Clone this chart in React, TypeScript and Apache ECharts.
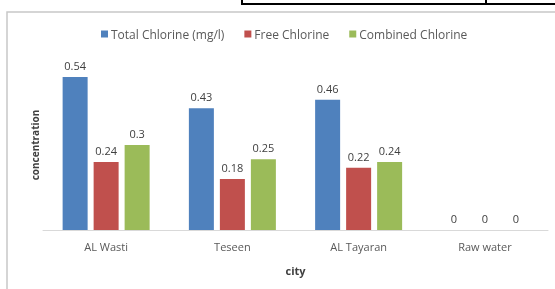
import React, { useEffect, useRef } from "react";
import * as echarts from "echarts";

const categories = ["AL Wasti", "Teseen", "AL Tayaran", "Raw water"];
const totalChlorine = [0.54, 0.43, 0.46, 0];
const freeChlorine = [0.24, 0.18, 0.22, 0];
const combinedChlorine = [0.3, 0.25, 0.24, 0];
const seriesNames = ["Total Chlorine (mg/l)", "Free Chlorine", "Combined Chlorine"];

const FONT = "'Open Sans', Lato, sans-serif";

export default function App() {
  const ref = useRef<HTMLDivElement>(null);
  useEffect(() => {
    if (!ref.current) return;
    const chart = echarts.init(ref.current, undefined, { renderer: "svg" });
    const label = {
      show: true,
      position: "top" as const,
      distance: 6,
      color: "#404040",
      fontSize: 11,
      fontFamily: FONT,
    };
    const mk = (name: string, data: number[], color: string) => ({
      name,
      type: "bar" as const,
      data,
      barWidth: 25,
      barGap: "24%",
      itemStyle: { color },
      label,
    });
    chart.setOption({
      animation: false,
      textStyle: { fontFamily: FONT },
      graphic: [
        { type: "rect", shape: { x: 7, y: 12, width: 600, height: 320 }, style: { fill: "#fff", stroke: "#c8c8c8", lineWidth: 1.5 }, z: -10 },
        { type: "line", shape: { x1: 242, y1: 4, x2: 560, y2: 4 }, style: { stroke: "#000", lineWidth: 2 } },
        { type: "line", shape: { x1: 242, y1: 0, x2: 242, y2: 5 }, style: { stroke: "#000", lineWidth: 2 } },
        { type: "line", shape: { x1: 486, y1: 0, x2: 486, y2: 5 }, style: { stroke: "#000", lineWidth: 2 } },
      ],
      legend: {
        left: 96,
        top: 23,
        icon: "rect",
        itemWidth: 7,
        itemHeight: 7,
        itemGap: 20,
        textStyle: { color: "#595959", fontSize: 12, fontFamily: FONT, padding: [0, 0, 0, -2] },
        data: seriesNames,
      },
      grid: { left: 43, right: 7, top: 60, bottom: 59 },
      xAxis: {
        type: "category",
        data: categories,
        axisLine: { lineStyle: { color: "#d9d9d9", width: 1 } },
        axisTick: { show: false },
        axisLabel: { color: "#595959", fontSize: 11, margin: 11, fontFamily: FONT },
        name: "city",
        nameLocation: "middle",
        nameGap: 35,
        nameTextStyle: { color: "#404040", fontWeight: "bold", fontSize: 11, fontFamily: FONT },
      },
      yAxis: {
        type: "value",
        min: 0,
        max: 0.6,
        axisLine: { show: false },
        axisTick: { show: false },
        axisLabel: { show: false },
        splitLine: { show: false },
        name: "concentration",
        nameLocation: "middle",
        nameGap: 3,
        nameTextStyle: { color: "#404040", fontWeight: "bold", fontSize: 10, fontFamily: FONT },
      },
      series: [
        mk(seriesNames[0], totalChlorine, "#4F81BD"),
        mk(seriesNames[1], freeChlorine, "#C0504D"),
        mk(seriesNames[2], combinedChlorine, "#9BBB59"),
      ],
    });
    return () => chart.dispose();
  }, []);
  return <div ref={ref} style={{ position: "fixed", left: 0, top: 0, width: 555, height: 289 }} />;
}
